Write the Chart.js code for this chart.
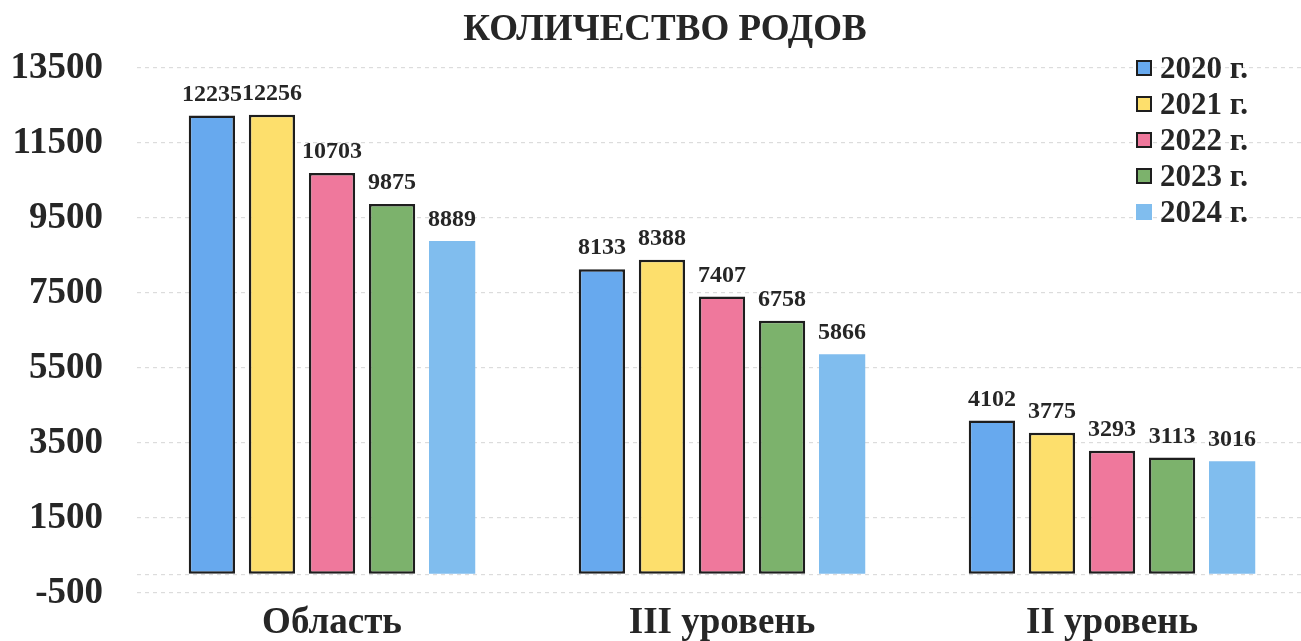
<!DOCTYPE html>
<html>
<head>
<meta charset="utf-8">
<script src="https://cdn.jsdelivr.net/npm/chart.js@4.4.1/dist/chart.umd.min.js"></script>
<style>
    html, body { margin: 0; padding: 0; background: #ffffff; overflow: hidden; }
    #wrap { position: relative; width: 1301px; height: 641px; overflow: hidden; }
    #legend {
        position: absolute; left: 1136px; top: 50px;
        font: bold 31px 'Liberation Serif', serif; color: #262626;
    }
    .row { height: 36px; display: flex; align-items: center; }
    .box { width: 16px; height: 16px; margin-right: 8px; box-sizing: border-box; }
</style>
</head>
<body>
<div id="wrap">
    <canvas id="chart" width="1310" height="641"></canvas>
    <div id="legend"></div>
</div>
<script>
const categories = ['Область', 'III уровень', 'II уровень'];
const years = ['2020 г.', '2021 г.', '2022 г.', '2023 г.', '2024 г.'];
const values2020 = [12235, 8133, 4102];
const values2021 = [12256, 8388, 3775];
const values2022 = [10703, 7407, 3293];
const values2023 = [9875, 6758, 3113];
const values2024 = [8889, 5866, 3016];
const yTicks = [-500, 1500, 3500, 5500, 7500, 9500, 11500, 13500];

const seriesValues = [values2020, values2021, values2022, values2023, values2024];
const colors = ['#67a9ee', '#fddf6c', '#ef789c', '#7cb26c', '#80bdee'];
const borders = [2.5, 2.5, 2.5, 2.5, 0];

const textColor = '#262626';
const titleText = 'КОЛИЧЕСТВО РОДОВ';

// Title and value labels above each bar
const valueLabels = {
    id: 'valueLabels',
    afterDatasetsDraw(chart) {
        const ctx = chart.ctx;
        ctx.save();
        ctx.fillStyle = textColor;
        ctx.textAlign = 'center';

        ctx.font = 'bold 37px "Liberation Serif"';
        ctx.textBaseline = 'middle';
        ctx.fillText(titleText, 665, 30);

        ctx.font = 'bold 24px "Liberation Serif"';
        ctx.textBaseline = 'bottom';
        chart.data.datasets.forEach((ds, i) => {
            chart.getDatasetMeta(i).data.forEach((bar, j) => {
                ctx.fillText(ds.data[j], bar.x, bar.y - 9);
            });
        });
        ctx.restore();
    }
};

const ctx = document.getElementById('chart').getContext('2d');
new Chart(ctx, {
    type: 'bar',
    data: {
        labels: categories,
        datasets: years.map((y, i) => ({
            label: y,
            data: seriesValues[i],
            backgroundColor: colors[i],
            borderColor: '#1e1e1e',
            borderWidth: borders[i],
            borderSkipped: false,
            categoryPercentage: 0.77,
            barPercentage: 0.77
        }))
    },
    options: {
        responsive: false,
        animation: false,
        layout: { padding: { left: 12, right: 3, top: 68, bottom: 0 } },
        plugins: {
            legend: { display: false },
            tooltip: { enabled: false },
            title: { display: false }
        },
        scales: {
            x: {
                afterFit(axis) { axis.height = 48; },
                grid: { display: false, drawTicks: false },
                border: { display: false },
                ticks: {
                    color: textColor,
                    padding: 12,
                    font: { family: 'Liberation Serif', size: 37, weight: 'bold', lineHeight: 1 }
                }
            },
            y: {
                min: -500,
                max: 13500,
                afterFit(axis) { axis.width = 125; },
                afterBuildTicks(axis) {
                    axis.ticks = yTicks.concat([0]).map(v => ({ value: v }));
                },
                border: { display: false, dash: [4, 4] },
                grid: { color: '#dcdcdc', lineWidth: 1.2, drawTicks: false },
                ticks: {
                    color: textColor,
                    padding: 34,
                    font: { family: 'Liberation Serif', size: 37, weight: 'bold', lineHeight: 0.01 },
                    callback: v => (v === 0 ? '' : v)
                }
            }
        }
    },
    plugins: [valueLabels]
});

// HTML legend
const legend = document.getElementById('legend');
years.forEach((y, i) => {
    const row = document.createElement('div');
    row.className = 'row';
    const box = document.createElement('span');
    box.className = 'box';
    box.style.background = colors[i];
    if (borders[i]) box.style.border = '2px solid #1e1e1e';
    row.appendChild(box);
    row.appendChild(document.createTextNode(y));
    legend.appendChild(row);
});
</script>
</body>
</html>
